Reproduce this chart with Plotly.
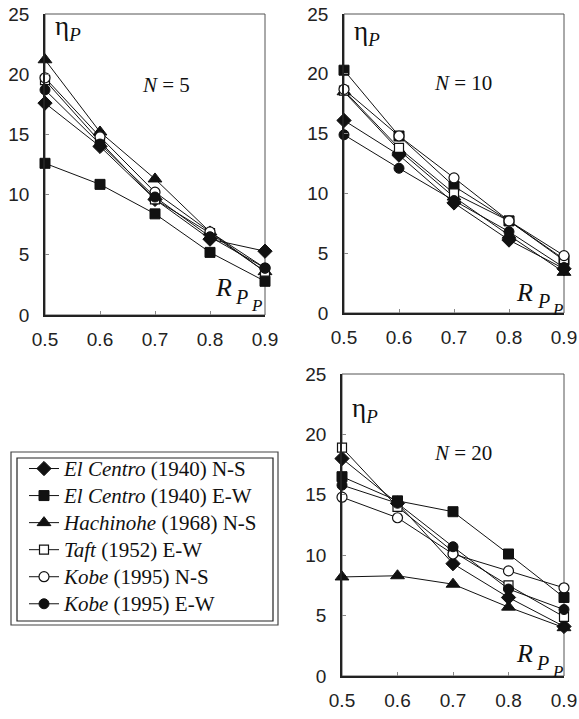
import plotly.graph_objects as go

W, H = 579, 719

ratio = [0.5, 0.6, 0.7, 0.8, 0.9]
x_ticks = [0.5, 0.6, 0.7, 0.8, 0.9]
x_tick_labels = ["0.5", "0.6", "0.7", "0.8", "0.9"]
y_ticks = [0, 5, 10, 15, 20, 25]

series_names = [
    "<i>El Centro</i> (1940) N-S",
    "<i>El Centro</i> (1940) E-W",
    "<i>Hachinohe</i> (1968) N-S",
    "<i>Taft</i> (1952) E-W",
    "<i>Kobe</i> (1995) N-S",
    "<i>Kobe</i> (1995) E-W",
]

# N = 5
n5_elcentro_ns = [17.6, 14.0, 9.6, 6.3, 5.3]
n5_elcentro_ew = [12.6, 10.85, 8.4, 5.2, 2.8]
n5_hachinohe = [21.2, 15.2, 11.3, 6.9, 3.6]
n5_taft = [19.5, 14.4, 9.6, 6.8, 3.6]
n5_kobe_ns = [19.7, 14.8, 10.2, 6.9, 3.9]
n5_kobe_ew = [18.7, 14.2, 9.8, 6.5, 3.9]

# N = 10
n10_elcentro_ns = [16.1, 13.2, 9.2, 6.1, 3.7]
n10_elcentro_ew = [20.3, 14.8, 10.6, 7.7, 4.4]
n10_hachinohe = [18.5, 13.6, 9.7, 6.5, 3.4]
n10_taft = [18.6, 13.8, 10.0, 7.7, 4.5]
n10_kobe_ns = [18.7, 14.8, 11.3, 7.7, 4.8]
n10_kobe_ew = [14.9, 12.1, 9.4, 6.8, 3.8]

# N = 20
n20_elcentro_ns = [18.0, 14.3, 9.3, 6.5, 4.1]
n20_elcentro_ew = [16.5, 14.5, 13.6, 10.1, 6.5]
n20_hachinohe = [8.2, 8.3, 7.6, 5.7, 4.0]
n20_taft = [18.9, 14.0, 10.3, 7.5, 4.9]
n20_kobe_ns = [14.8, 13.1, 10.1, 8.7, 7.3]
n20_kobe_ew = [15.8, 14.3, 10.7, 7.2, 5.5]

panels = [
    ("N", "5", [n5_elcentro_ns, n5_elcentro_ew, n5_hachinohe, n5_taft, n5_kobe_ns, n5_kobe_ew]),
    ("N", "10", [n10_elcentro_ns, n10_elcentro_ew, n10_hachinohe, n10_taft, n10_kobe_ns, n10_kobe_ew]),
    ("N", "20", [n20_elcentro_ns, n20_elcentro_ew, n20_hachinohe, n20_taft, n20_kobe_ns, n20_kobe_ew]),
]

styles = [
    dict(symbol="diamond", size=11, color="#111", line=dict(color="#111", width=1)),
    dict(symbol="square", size=10, color="#111", line=dict(color="#111", width=1)),
    dict(symbol="triangle-up", size=12, color="#111", line=dict(color="#111", width=1)),
    dict(symbol="square", size=9, color="white", line=dict(color="#111", width=1.2)),
    dict(symbol="circle", size=10, color="white", line=dict(color="#111", width=1.2)),
    dict(symbol="circle", size=10, color="#111", line=dict(color="#111", width=1)),
]

# pixel boxes of the plot areas (left, right, top, bottom)
boxes = [(45, 265, 14, 315), (344, 564, 14, 313), (342, 564, 374, 676)]

# annotation placements per panel (in axis-domain fractions)
eta_pos = [(0.035, 0.955), (0.035, 0.935), (0.035, 0.88)]
n_pos = [(0.55, 0.764), (0.54, 0.77), (0.545, 0.74)]
r_pos = [(0.81, 0.09), (0.82, 0.07), (0.82, 0.073)]


def px_x(v):
    return v / W


def px_y(v):
    return 1 - v / H


fig = go.Figure()
layout = dict(
    width=W, height=H, margin=dict(l=0, r=0, t=0, b=0, autoexpand=False),
    paper_bgcolor="white", plot_bgcolor="white", showlegend=True,
)
annotations = []
shapes = []
serif = "Liberation Serif, Times New Roman, serif"
sans = "Liberation Sans, Arial, sans-serif"

for pi, (nlab, nval, data) in enumerate(panels):
    l, r, t, b = boxes[pi]
    xa = "x" if pi == 0 else f"x{pi+1}"
    ya = "y" if pi == 0 else f"y{pi+1}"
    xkey = "xaxis" if pi == 0 else f"xaxis{pi+1}"
    ykey = "yaxis" if pi == 0 else f"yaxis{pi+1}"
    layout[xkey] = dict(
        domain=[px_x(l), px_x(r)], anchor=ya, range=[0.5, 0.9],
        tickvals=x_ticks, ticktext=x_tick_labels,
        ticks="inside", ticklen=4, tickcolor="#888", tickwidth=1,
        showline=True, linecolor="#222", linewidth=1.6,
        showgrid=False, zeroline=False, automargin=False,
        tickfont=dict(family=sans, size=19, color="#222"),
        ticklabelstandoff=6, ticklabeloverflow="allow",
    )
    layout[ykey] = dict(
        domain=[px_y(b), px_y(t)], anchor=xa, range=[0, 25],
        tickvals=y_ticks, ticks="inside", ticklen=4, tickcolor="#888", tickwidth=1,
        showline=True, linecolor="#222", linewidth=1.6,
        showgrid=False, zeroline=False, automargin=False,
        tickfont=dict(family=sans, size=19, color="#222"),
        ticklabelstandoff=10, ticklabeloverflow="allow",
    )
    # frame (top/right)
    shapes.append(dict(type="rect", xref=f"{xa} domain", yref=f"{ya} domain",
                       x0=0, x1=1, y0=0, y1=1, line=dict(color="#555", width=1),
                       layer="below"))
    for si, vals in enumerate(data):
        fig.add_trace(go.Scatter(
            x=ratio, y=vals, xaxis=xa, yaxis=ya, mode="lines+markers",
            name='<span style="font-size:21px">' + series_names[si] + "</span>",
            legendgroup=f"g{si}", showlegend=(pi == 0),
            line=dict(color="#111", width=1), marker=styles[si], cliponaxis=False,
        ))
    ex, ey = eta_pos[pi]
    annotations.append(dict(xref=f"{xa} domain", yref=f"{ya} domain", x=ex, y=ey,
                            xanchor="left", yanchor="middle", showarrow=False,
                            text="η<sub><i>P</i></sub>",
                            font=dict(family=serif, size=27, color="#111")))
    nx, ny = n_pos[pi]
    annotations.append(dict(xref=f"{xa} domain", yref=f"{ya} domain", x=nx, y=ny,
                            xanchor="center", yanchor="middle", showarrow=False,
                            text=f"<i>{nlab}</i> = {nval}",
                            font=dict(family=serif, size=21, color="#111")))
    rx, ry = r_pos[pi]
    annotations.append(dict(xref=f"{xa} domain", yref=f"{ya} domain", x=rx, y=ry,
                            xanchor="center", yanchor="middle", showarrow=False,
                            text="<i>R</i>", font=dict(family=serif, size=26, color="#111")))
    annotations.append(dict(xref=f"{xa} domain", yref=f"{ya} domain", x=rx + 0.085, y=ry - 0.03,
                            xanchor="center", yanchor="middle", showarrow=False,
                            text="<i>P</i>", font=dict(family=serif, size=20, color="#111")))
    annotations.append(dict(xref=f"{xa} domain", yref=f"{ya} domain", x=rx + 0.15, y=ry - 0.057,
                            xanchor="center", yanchor="middle", showarrow=False,
                            text="<i>P</i>", font=dict(family=serif, size=17, color="#111")))

# legend double frame
shapes.append(dict(type="rect", xref="paper", yref="paper",
                   x0=px_x(11), x1=px_x(278), y0=px_y(625), y1=px_y(452),
                   line=dict(color="#444", width=1.2)))
shapes.append(dict(type="rect", xref="paper", yref="paper",
                   x0=px_x(17), x1=px_x(273), y0=px_y(621), y1=px_y(458),
                   line=dict(color="#222", width=1.2)))

layout["legend"] = dict(
    x=px_x(24), y=px_y(450), xanchor="left", yanchor="top",
    bgcolor="rgba(0,0,0,0)", borderwidth=0, traceorder="grouped",
    font=dict(family=serif, size=18.5, color="#111"),
    tracegroupgap=0, itemwidth=30,
)
layout["annotations"] = annotations
layout["shapes"] = shapes
fig.update_layout(**layout)
fig.write_html(
    "out.html",
    config={"displayModeBar": False},
    post_script="document.body.style.margin='0';document.body.style.overflow='hidden';",
)
